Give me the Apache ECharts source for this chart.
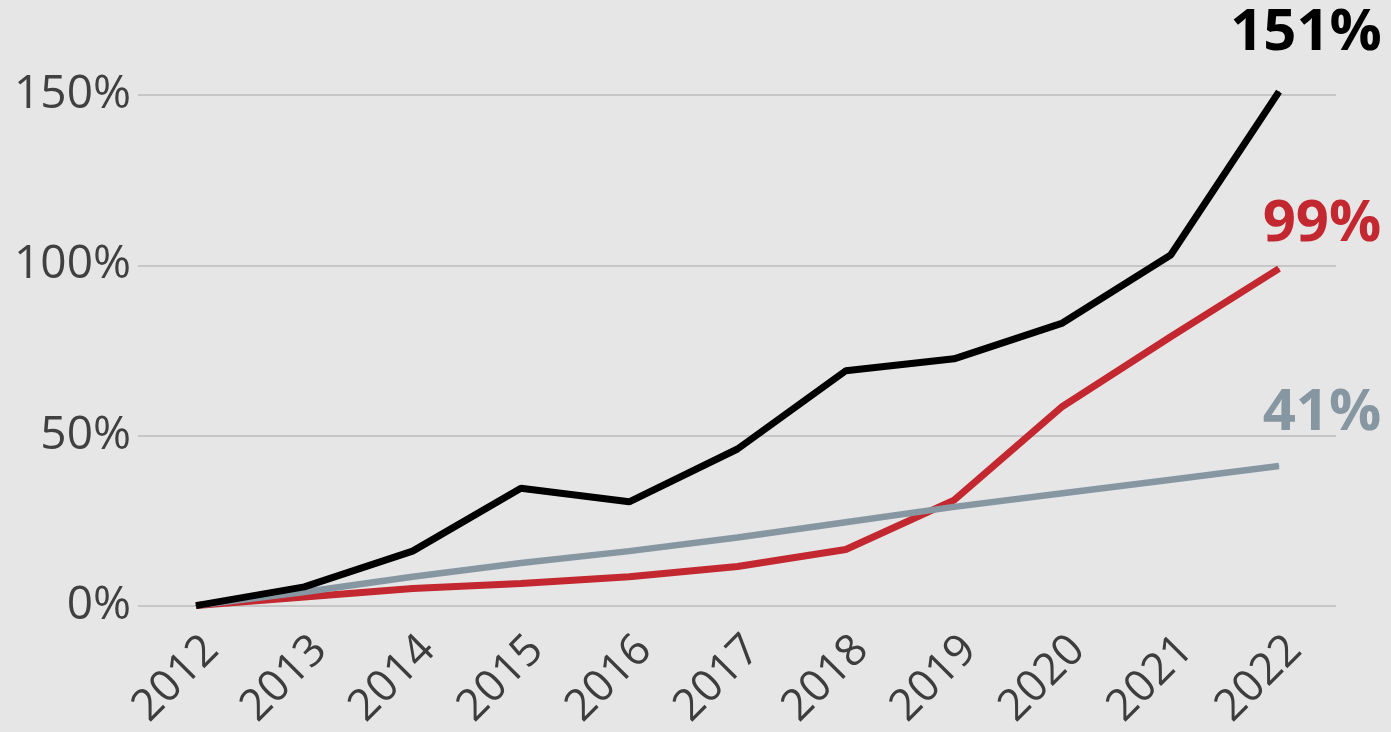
<!DOCTYPE html>
<html>
<head>
<meta charset="utf-8">
<script src="https://cdn.jsdelivr.net/npm/echarts@6/dist/echarts.min.js"></script>
<style>
html,body{margin:0;padding:0;background:#e6e6e6;}
#c{width:1391px;height:732px;}
</style>
</head>
<body>
<div id="c"></div>
<script>
var years = ['2012','2013','2014','2015','2016','2017','2018','2019','2020','2021','2022'];
var blackValues = [0, 5.5, 16, 34.5, 30.5, 46, 69, 72.5, 83, 103, 151];
var redValues = [0, 2.5, 5, 6.5, 8.5, 11.5, 16.5, 31, 58.5, 79, 99];
var grayValues = [0, 4, 8.5, 12.5, 16, 20, 24.5, 29, 33, 37, 41];
var yTicks = [0, 50, 100, 150];

var FONT = '"Open Sans", "Noto Sans", sans-serif';

function withEndLabel(values, color, offset) {
  return values.map(function (v, i) {
    if (i !== values.length - 1) return v;
    return {
      value: v,
      label: {
        show: true,
        position: 'inside',
        align: 'center',
        verticalAlign: 'middle',
        offset: offset,
        formatter: Math.round(v) + '%',
        color: color,
        fontFamily: FONT,
        fontWeight: 'bold',
        fontSize: 58
      }
    };
  });
}

var chart = echarts.init(document.getElementById('c'), null, {renderer: 'canvas'});
chart.setOption({
  backgroundColor: '#e6e6e6',
  animation: false,
  grid: [
    {left: 138, right: 55, top: 95, bottom: 126},
    {left: 196, right: 112, top: 95, bottom: 126}
  ],
  xAxis: [
    {type: 'value', gridIndex: 0, show: false, min: 0, max: 1},
    {
      type: 'category', gridIndex: 1, data: years, boundaryGap: false,
      axisLine: {show: false}, axisTick: {show: false},
      axisLabel: {
        rotate: 45, margin: 22, fontSize: 44, color: '#3d3d3d',
        fontFamily: FONT, interval: 0, verticalAlign: 'top'
      }
    }
  ],
  yAxis: [
    {
      type: 'value', gridIndex: 0, min: yTicks[0], max: yTicks[yTicks.length - 1], interval: 50,
      axisLine: {show: false}, axisTick: {show: false},
      splitLine: {lineStyle: {color: '#c6c6c6', width: 2}},
      axisLabel: {
        formatter: '{value}%', fontSize: 46, color: '#404040', margin: 7,
        fontFamily: FONT, padding: [10, 0, 0, 0]
      }
    },
    {type: 'value', gridIndex: 1, min: 0, max: 150, show: false}
  ],
  series: [
    {
      name: 'red', type: 'line', xAxisIndex: 1, yAxisIndex: 1,
      data: withEndLabel(redValues, '#c3272f', [43, -44]),
      symbol: 'circle', symbolSize: 1, showSymbol: true, clip: false,
      itemStyle: {color: '#c3272f'},
      lineStyle: {color: '#c3272f', width: 7},
      z: 2
    },
    {
      name: 'gray', type: 'line', xAxisIndex: 1, yAxisIndex: 1,
      data: withEndLabel(grayValues, '#8797a2', [43, -53]),
      symbol: 'circle', symbolSize: 1, showSymbol: true, clip: false,
      itemStyle: {color: '#8797a2'},
      lineStyle: {color: '#8797a2', width: 6.5},
      z: 3
    },
    {
      name: 'black', type: 'line', xAxisIndex: 1, yAxisIndex: 1,
      data: withEndLabel(blackValues, '#000000', [27, -58]),
      symbol: 'circle', symbolSize: 1, showSymbol: true, clip: false,
      itemStyle: {color: '#000000'},
      lineStyle: {color: '#000000', width: 7},
      z: 4
    }
  ]
});
</script>
</body>
</html>
